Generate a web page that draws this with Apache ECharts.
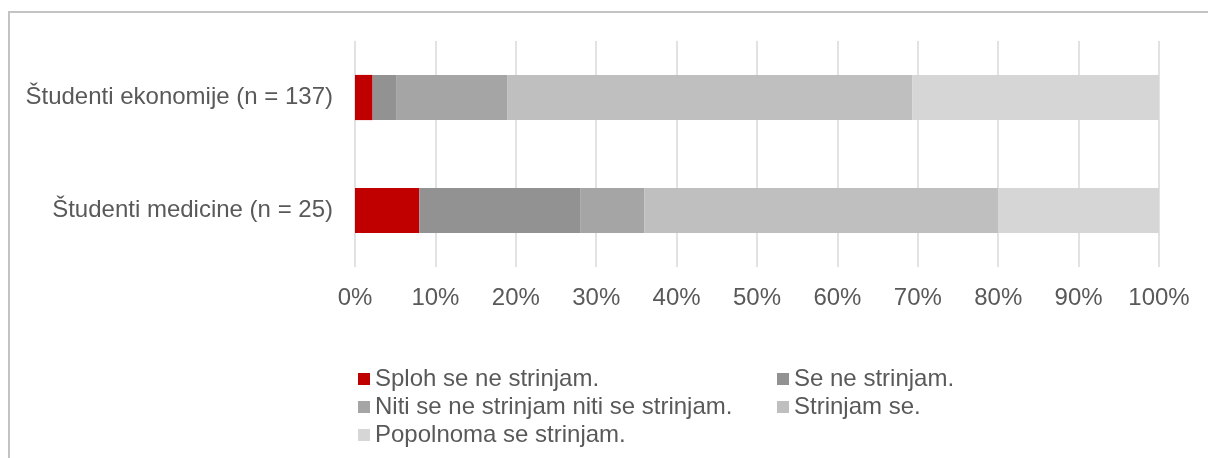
<!DOCTYPE html>
<html>
<head>
<meta charset="utf-8">
<script src="https://cdn.jsdelivr.net/npm/echarts@6/dist/echarts.min.js"></script>
<style>
html,body{margin:0;padding:0;background:#fff;}
#c{width:1208px;height:458px;}
</style>
</head>
<body>
<div id="c"></div>
<script>
const categories = ['Študenti medicine (n = 25)', 'Študenti ekonomije (n = 137)'];
const seriesNames = ['Sploh se ne strinjam.', 'Se ne strinjam.', 'Niti se ne strinjam niti se strinjam.', 'Strinjam se.', 'Popolnoma se strinjam.'];
const colors = ['#c00000', '#929292', '#a5a5a5', '#bfbfbf', '#d6d6d6'];
// percentages [medicine, economics]
const sploh = [8.0, 2.19];
const seNe = [20.0, 2.92];
const niti = [8.0, 13.87];
const strinjam = [44.0, 50.36];
const popolnoma = [20.0, 30.66];
const values = [sploh, seNe, niti, strinjam, popolnoma];
const xTicks = [0, 10, 20, 30, 40, 50, 60, 70, 80, 90, 100];

const font = 'Liberation Sans, Arial, sans-serif';
const chart = echarts.init(document.getElementById('c'), null, {renderer: 'canvas'});
chart.setOption({
  animation: false,
  backgroundColor: '#fff',
  graphic: [{
    type: 'rect', silent: true,
    shape: {x: 9, y: 12, width: 1400, height: 600},
    style: {fill: 'none', stroke: '#c3c3c3', lineWidth: 2}
  }],
  grid: {left: 355, right: 49, top: 41, bottom: 191, containLabel: false},
  xAxis: {
    type: 'value', min: 0, max: 100, interval: 10,
    axisLine: {show: false}, axisTick: {show: false},
    splitLine: {lineStyle: {color: '#d9d9d9', width: 1.5}},
    axisLabel: {color: '#595959', fontFamily: font, fontSize: 24, margin: 19,
      formatter: v => xTicks.includes(v) ? v + '%' : ''}
  },
  yAxis: {
    type: 'category', data: categories,
    axisLine: {show: false}, axisTick: {show: false},
    axisLabel: {color: '#595959', fontFamily: font, fontSize: 24, margin: 22}
  },
  legend: {
    left: 358, top: 367, width: 860, padding: 0,
    itemWidth: 12, itemHeight: 12, itemGap: 4,
    icon: 'rect',
    textStyle: {color: '#595959', fontFamily: font, fontSize: 24, lineHeight: 18, width: 398},
    data: seriesNames
  },
  series: seriesNames.map((n, i) => ({
    name: n, type: 'bar', stack: 'total',
    barWidth: '40%',
    itemStyle: {color: colors[i], borderColor: '#ffffff', borderWidth: 0},
    data: values[i]
  }))
});
</script>
</body>
</html>
